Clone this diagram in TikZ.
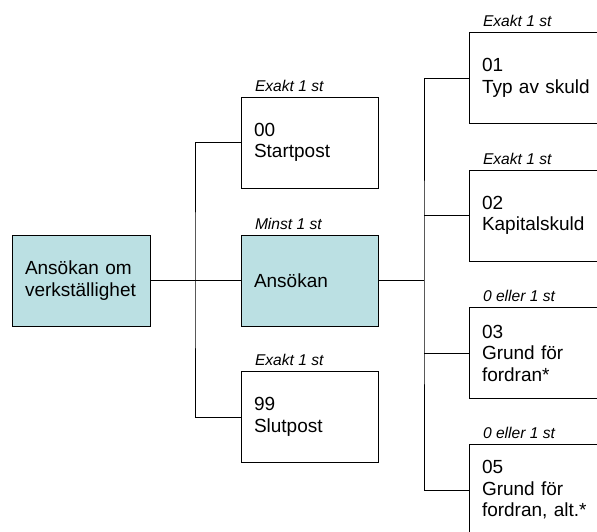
\documentclass[tikz,border=0pt]{standalone}
\usepackage{fontspec}
\setmainfont{Liberation Sans}
\hyphenpenalty=10000
\exhyphenpenalty=10000
\definecolor{boxblue}{RGB}{187,224,227}
\begin{document}
\begin{tikzpicture}[x=1pt,y=-1pt,line width=0.9pt,
  rec/.style={draw,rectangle,minimum width=137pt,minimum height=91pt,
    text width=111pt,inner xsep=13pt,align=left,
    font=\fontsize{19}{21.5}\selectfont},
  main/.style={rec,fill=boxblue},
  tag/.style={anchor=base west,inner sep=0pt,
    font=\fontsize{15.6}{18}\selectfont\itshape}]
\useasboundingbox(0,0)rectangle(597,531);
\clip(0,0)rectangle(597,531);
\node[main,minimum width=138pt,text width=112pt](root)at(81,280.5){Ansökan om\\verkställighet};
\node[main](ans)at(309.5,280.5){Ansökan};
\node[rec](start)at(309.5,142.5){00\\Startpost};
\node[rec](slut)at(309.5,417){99\\Slutpost};
\node[rec](b01)at(537.5,78){01\\Typ av skuld};
\node[rec](b02)at(537.5,215.5){02\\Kapitalskuld};
\node[rec](b03)at(537.5,353){03\\Grund för\\fordran*};
\node[rec](b05)at(537.5,490){05\\Grund för\\fordran, alt.*};
\node[tag](t00)at([xshift=14pt,yshift=5.5pt]start.north west){Exakt 1 st};
\node[tag](tans)at([xshift=14pt,yshift=5.5pt]ans.north west){Minst 1 st};
\node[tag](t99)at([xshift=14pt,yshift=5.5pt]slut.north west){Exakt 1 st};
\node[tag](t01)at([xshift=14pt,yshift=5.5pt]b01.north west){Exakt 1 st};
\node[tag](t02)at([xshift=14pt,yshift=5.5pt]b02.north west){Exakt 1 st};
\node[tag](t03)at([xshift=14pt,yshift=5.5pt]b03.north west){0 eller 1 st};
\node[tag](t05)at([xshift=14pt,yshift=5.5pt]b05.north west){0 eller 1 st};
\coordinate(busL)at(195,280.5);
\coordinate(busR)at(424,280.5);
\draw(root.east)--(ans.west);
\draw(start.west)-|(busL)|-(slut.west);
\draw(ans.east)--(busR);
\draw(b01.west)-|(busR)|-(b05.west);
\draw(b02.west)--(b02.west-|busR);
\draw(b03.west)--(b03.west-|busR);
\end{tikzpicture}
\end{document}
